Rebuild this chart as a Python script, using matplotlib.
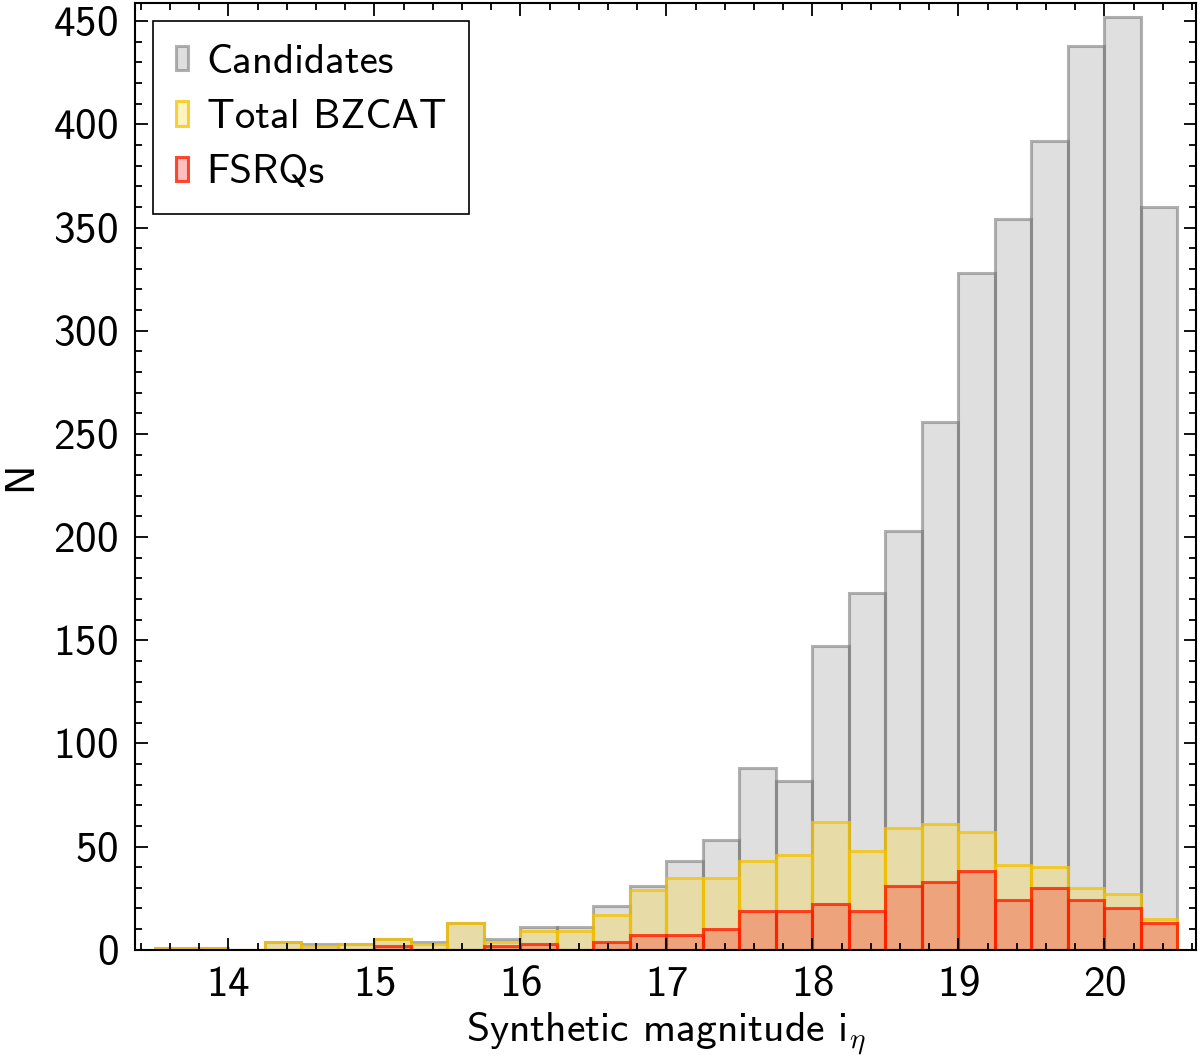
"""Histogram of synthetic i-band magnitudes: candidates, BZCAT sources and FSRQs."""

import matplotlib
matplotlib.use("Agg")
import matplotlib.pyplot as plt
from matplotlib.ticker import MultipleLocator
import numpy as np

# bin left edges (width 0.25 mag)
bin_left = np.arange(13.5, 20.5, 0.25)
bin_width = 0.25

candidates = [1, 1, 0, 4, 3, 3, 5, 4, 13, 5, 11, 11, 21, 31, 43, 53,
              88, 82, 147, 173, 203, 256, 328, 354, 392, 438, 452, 360]
total_bzcat = [1, 1, 0, 4, 2, 3, 5, 3, 13, 4, 9, 9, 17, 29, 35, 35,
               43, 46, 62, 48, 59, 61, 57, 41, 40, 30, 27, 15]
fsrqs = [0, 0, 0, 0, 0, 0, 2, 0, 0, 2, 3, 0, 4, 7, 7, 10,
         19, 19, 22, 19, 31, 33, 38, 24, 30, 24, 20, 13]

plt.rcParams["font.family"] = ["cmss10", "DejaVu Sans"]
plt.rcParams["mathtext.fontset"] = "cm"
plt.rcParams["axes.formatter.use_mathtext"] = True
plt.rcParams["font.size"] = 30

fig = plt.figure(figsize=(12, 10.6), dpi=100)
ax = fig.add_axes([0.1125, 0.104, 0.8845, 0.8935])

series = [
    (candidates, "Candidates", (0.5, 0.5, 0.5, 0.25), (0.45, 0.45, 0.45, 0.55)),
    (total_bzcat, "Total BZCAT", (1.0, 0.84, 0.0, 0.25), (0.96, 0.76, 0.0, 0.75)),
    (fsrqs, "FSRQs", (1.0, 0.0, 0.0, 0.25), (1.0, 0.12, 0.0, 0.8)),
]
for vals, label, fc, ec in series:
    ax.bar(bin_left, vals, width=bin_width, align="edge", facecolor=fc,
           edgecolor=ec, linewidth=2.2, label=label)

ax.set_xlim(13.36, 20.63)
ax.set_ylim(0, 459)
ax.xaxis.set_major_locator(MultipleLocator(1))
ax.xaxis.set_minor_locator(MultipleLocator(0.2))
ax.yaxis.set_major_locator(MultipleLocator(50))
ax.yaxis.set_minor_locator(MultipleLocator(10))
ax.tick_params(which="both", direction="in", top=True, right=True, width=1.3)
ax.tick_params(which="major", length=9, pad=12, labelsize=31)
ax.tick_params(which="minor", length=5)
for sp in ax.spines.values():
    sp.set_linewidth(1.5)

ax.set_xlabel(r"Synthetic magnitude i$_\eta$", labelpad=4)
ax.set_ylabel("N", labelpad=10)

leg = ax.legend(loc="upper left", fancybox=False, fontsize=29.5,
                edgecolor="black", framealpha=1, handlelength=0.3,
                handleheight=0.55, handletextpad=0.45, borderpad=0.55,
                labelspacing=0.45, borderaxespad=0.45)
leg.get_frame().set_linewidth(1.2)

fig.savefig("out.png", dpi=100)
